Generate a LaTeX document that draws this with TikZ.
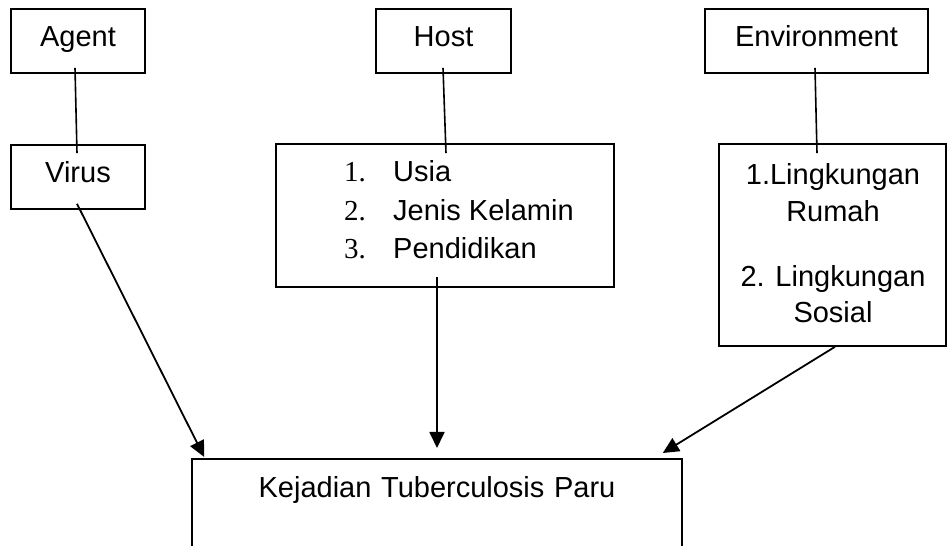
\documentclass[tikz,border=0pt]{standalone}
\usepackage{fontspec}
\setmainfont{Liberation Sans}
\newfontfamily\numfont{Liberation Serif}
\usetikzlibrary{arrows.meta}
\begin{document}
\begin{tikzpicture}[x=1pt,y=1pt,
  box/.style={draw,line width=1.6pt,inner sep=0pt,text height=21pt,text depth=9pt,
    minimum height=64pt,font=\fontsize{29}{34}\selectfont},
  bigbox/.style={draw,line width=1.6pt,inner sep=0pt},
  lbl/.style={anchor=base,inner sep=0pt,font=\fontsize{29}{34}\selectfont},
  lblw/.style={anchor=base west,inner sep=0pt,font=\fontsize{29}{34}\selectfont},
  conn/.style={line width=1.6pt},
  arr/.style={line width=1.8pt,-{Triangle[length=16pt,width=15pt]}}]
\clip (0,0) rectangle (948,546);
\fill[white] (0,0) rectangle (948,546);
% top boxes
\node[box,minimum width=134pt] (agent) at (78,505) {Agent};
\node[box,minimum width=135pt] (host) at (443.5,505) {Host};
\node[box,minimum width=223pt] (env) at (816.5,505) {Environment};
% second row
\node[box,minimum width=134pt] (virus) at (78,369) {Virus};
\node[bigbox,minimum width=338pt,minimum height=143pt] (hostlist) at (445,330.5) {};
\node[bigbox,minimum width=227pt,minimum height=202pt] (envlist) at (832.5,301) {};
% host list
\node[lblw,font=\fontsize{29}{34}\numfont] (n1) at (344,364) {1.};
\node[lblw] (t1) at (393,364) {Usia};
\node[lblw,font=\fontsize{29}{34}\numfont] (n2) at (344,325) {2.};
\node[lblw] (t2) at (393,325) {Jenis Kelamin};
\node[lblw,font=\fontsize{29}{34}\numfont] (n3) at (344,287) {3.};
\node[lblw] (t3) at (393,287) {Pendidikan};
% environment list
\node[lbl] (e1) at (833,361) {1.Lingkungan};
\node[lbl] (e2) at (833,324) {Rumah};
\node[lbl] (e3) at (833,259) {2. Lingkungan};
\node[lbl] (e4) at (833,223) {Sosial};
% result
\node[draw,line width=1.6pt,anchor=north,inner xsep=0pt,inner ysep=18pt,
  text width=490pt,align=center,text height=21pt,text depth=100pt,
  font=\fontsize{29}{34}\selectfont] (result) at (437,88) {Kejadian Tuberculosis Paru};
% connectors
\draw[conn] ([xshift=-3pt,yshift=6pt]agent.south) -- ([xshift=-1pt,yshift=-9pt]virus.north);
\draw[conn] ([xshift=-0.5pt,yshift=6pt]host.south) -- ([xshift=1pt,yshift=-10pt]hostlist.north);
\draw[conn] ([xshift=-1.5pt,yshift=6pt]env.south) -- ([xshift=-15.5pt,yshift=-10pt]envlist.north);
\draw[arr] ([xshift=-1pt,yshift=6pt]virus.south) -- ([xshift=13pt,yshift=1pt]result.north west);
\draw[arr] ([xshift=-8pt,yshift=11pt]hostlist.south) -- ([yshift=10pt]result.north);
\draw[arr] ([xshift=2.5pt]envlist.south) -- ([xshift=-20pt,yshift=5pt]result.north east);
\end{tikzpicture}
\end{document}
